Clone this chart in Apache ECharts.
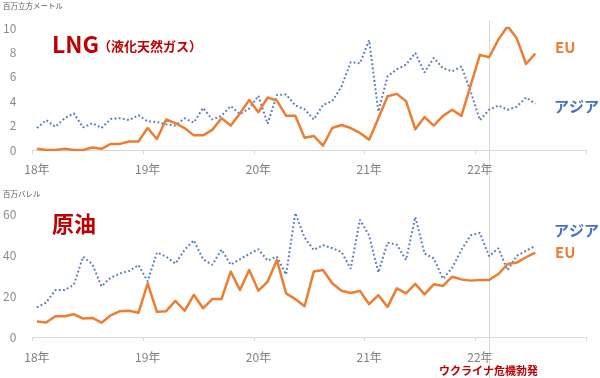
<!DOCTYPE html>
<html><head><meta charset="utf-8">
<script src="https://cdn.jsdelivr.net/npm/echarts@6/dist/echarts.min.js"></script>
<style>html,body{margin:0;padding:0;background:#fff}#c{width:600px;height:378px}</style>
</head><body><div id="c"></div>
<script>
// ---- data ----
const yearNames = ['2018','2019','2020','2021','2022'];
const yearLabels = ['18年','19年','20年','21年','22年'];
const monthNames = ['01','02','03','04','05','06','07','08','09','10','11','12'];
const crisisMonth = '2022-02';

// LNG (百万立方メートル), Jan 2018 – Jul 2022
const euLng = [
  0.1,0,0,0.1,0,0,0.2,0.1,0.5,0.5,0.7,0.7,
  1.8,0.9,2.5,2.2,1.8,1.2,1.2,1.65,2.6,2.0,3.0,4.1,
  3.1,4.3,4.05,2.8,2.8,1.0,1.15,0.35,1.8,2.05,1.8,1.4,
  0.85,2.6,4.4,4.6,4.0,1.7,2.7,2.0,2.8,3.3,2.8,5.3,
  7.8,7.6,9.05,10.15,9.15,7.05,7.9
];
const asiaLng = [
  1.8,2.45,1.9,2.6,3.0,1.85,2.2,1.8,2.55,2.6,2.45,2.85,
  2.35,2.3,2.1,2.0,2.6,2.25,3.45,2.5,2.8,3.6,2.95,3.4,
  4.45,2.15,4.5,4.55,3.65,3.35,2.5,3.7,4.0,5.2,7.2,7.1,
  9.0,3.15,6.05,6.6,7.0,7.95,6.35,7.55,6.7,6.45,6.85,4.8,
  2.45,3.3,3.65,3.3,3.55,4.3,3.8
];
// 原油 (百万バレル)
const euOil = [
  7.6,7.1,10.1,10.1,11.1,9.0,9.3,7.0,10.6,12.6,12.8,11.8,
  26.2,12.3,12.6,17.6,12.8,20.6,14.0,18.5,18.5,31.9,22.9,32.7,
  22.6,27.0,37.6,21.3,18.5,15.0,31.9,32.7,26.2,22.6,21.5,22.5,
  16.0,20.4,14.7,23.7,21.3,25.9,20.8,25.7,24.9,29.4,28.1,27.5,
  27.8,27.8,30.7,35.6,36.3,38.9,41.2
];
const asiaOil = [
  14.4,16.8,22.9,22.9,25.5,39.2,35.5,24.7,29.0,31.0,32.2,35.1,
  27.2,41.2,39.2,35.8,42.5,47.1,38.0,35.2,42.6,35.3,37.9,40.5,
  42.8,37.3,39.2,30.5,60.5,48.5,42.5,44.8,43.3,41.5,33.3,57.2,
  49.5,31.5,46.0,45.0,37.6,58.6,40.7,38.4,28.4,33.7,42.5,49.6,
  50.8,39.4,43.3,32.6,39.6,42.0,44.5
];

// ---- categories ----
const months = [];
const yearLabelOf = {};
yearNames.forEach((y, yi) => {
  monthNames.forEach((m, mi) => {
    const k = y + '-' + m;
    months.push(k);
    if (mi === 0) yearLabelOf[k] = yearLabels[yi];
  });
});

const FONT = '"Noto Sans CJK JP", "Noto Sans", sans-serif';
const ORANGE = '#ED7D31';
const BLUE = '#4472C4';
const DOT_BLUE = '#5677c9';
const RED = '#C00000';

function xAxis(gi, margin) {
  return {
    type: 'category', gridIndex: gi, data: months, boundaryGap: true,
    axisLine: { show: true, lineStyle: { color: '#d9d9d9', width: 1 } },
    axisTick: { show: true, interval: 11, length: 4, lineStyle: { color: '#d9d9d9' } },
    axisLabel: { interval: 11, margin: margin, color: '#808080', fontSize: 12, fontFamily: FONT,
      formatter: v => yearLabelOf[v] || '' },
    splitLine: { show: false }
  };
}
function yAxis(gi, max, interval) {
  return {
    type: 'value', gridIndex: gi, min: 0, max: max, interval: interval,
    axisLine: { show: false }, axisTick: { show: false }, splitLine: { show: false },
    axisLabel: { margin: 16, color: '#8c8c8c', fontSize: 12, fontFamily: FONT }
  };
}
function euSeries(gi, data) {
  return { type: 'line', xAxisIndex: gi, yAxisIndex: gi, data: data, symbol: 'none', z: 3,
    lineStyle: { color: ORANGE, width: 2.5, join: 'round' } };
}
function asiaSeries(gi, data) {
  return { type: 'line', xAxisIndex: gi, yAxisIndex: gi, data: data, symbol: 'none', z: 2,
    lineStyle: { color: DOT_BLUE, width: 2, type: [1.8, 2.4] } };
}

const chart = echarts.init(document.getElementById('c'), null, { renderer: 'canvas' });
chart.setOption({
  animation: false,
  backgroundColor: '#fff',
  grid: [
    { left: 32, right: 14, top: 28, height: 122 },
    { left: 32, right: 14, top: 214, height: 123 }
  ],
  xAxis: [xAxis(0, 13), xAxis(1, 14)],
  yAxis: [yAxis(0, 10, 2), yAxis(1, 60, 20)],
  series: [
    asiaSeries(0, asiaLng), euSeries(0, euLng),
    asiaSeries(1, asiaOil), euSeries(1, euOil)
  ]
});

const lineX = Math.round(chart.convertToPixel({ xAxisIndex: 0 }, crisisMonth)) + 0.5;
function txt(text, x, y, font, fill) {
  return { type: 'text', z: 10, style: { text: text, x: x, y: y, font: font, fill: fill, verticalAlign: 'middle', align: 'left' } };
}
chart.setOption({
  graphic: { elements: [
    { type: 'line', z: 0, shape: { x1: lineX, y1: 20, x2: lineX, y2: 378 }, style: { stroke: '#d9d9d9', lineWidth: 1 } },
    txt('百万立方メートル', 3, 6, '7.5px ' + FONT, '#595959'),
    txt('LNG', 52, 44, 'bold 23px ' + FONT, RED),
    txt('（液化天然ガス）', 98, 46, 'bold 13px ' + FONT, RED),
    txt('EU', 555, 47.5, 'bold 15px ' + FONT, ORANGE),
    txt('アジア', 554, 106, 'bold 15px ' + FONT, BLUE),
    txt('百万バレル', 3, 194, '7.5px ' + FONT, '#595959'),
    txt('原油', 52, 223.5, 'bold 22px ' + FONT, RED),
    txt('アジア', 554, 230, 'bold 15px ' + FONT, BLUE),
    txt('EU', 555, 252.5, 'bold 15px ' + FONT, ORANGE),
    txt('ウクライナ危機勃発', 439, 371, 'bold 11px ' + FONT, RED)
  ] }
});
</script>
</body></html>
